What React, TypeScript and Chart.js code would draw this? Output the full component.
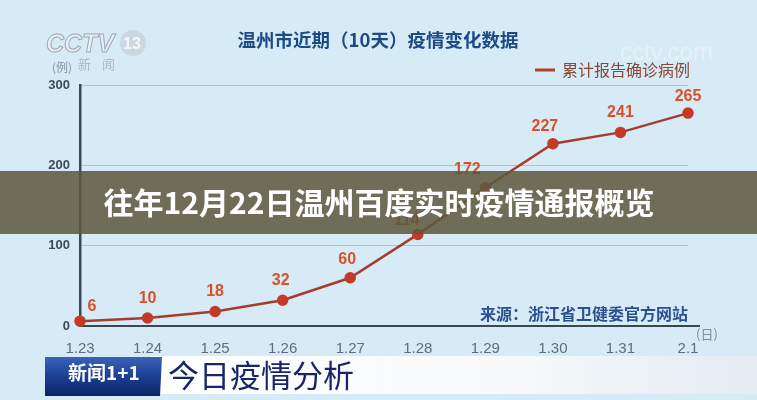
import React, { useEffect, useRef } from "react";
import { Chart, registerables } from "chart.js";

Chart.register(...registerables);

const categories = ["1.23", "1.24", "1.25", "1.26", "1.27", "1.28", "1.29", "1.30", "1.31", "2.1"];
const cumulativeCases = [6, 10, 18, 32, 60, 114, 172, 227, 241, 265];
const yTicks = [0, 100, 200, 300];
const chartTitle = "温州市近期（10天）疫情变化数据";
const legendLabel = "累计报告确诊病例";
const sourceText = "来源：浙江省卫健委官方网站";
const overlayTitle = "往年12月22日温州百度实时疫情通报概览";
const bannerText = "今日疫情分析";
const CJK = '"Noto Sans CJK SC", "Noto Sans", sans-serif';
const NUM = '"Liberation Sans", Arial, sans-serif';

// label offsets relative to each point (style only)
const labelDX = [12, 0, 0, -2, -3, -11, -18, -8, 0, 0];
const labelDY = [-15, -19, -20, -20, -18, -14, -18, -17, -20, -17];

const decorPlugin = {
  id: "decor",
  afterDatasetsDraw(chart: any) {
    const ctx = chart.ctx;
    const meta = chart.getDatasetMeta(0);
    ctx.save();
    ctx.font = `bold 16px ${NUM}`;
    ctx.fillStyle = "#d8512a";
    ctx.textAlign = "center";
    ctx.textBaseline = "middle";
    meta.data.forEach((pt: any, i: number) => {
      const v = cumulativeCases[i];
      ctx.fillText(String(v), pt.x + labelDX[i], pt.y + labelDY[i]);
    });
    ctx.restore();
  },
  afterDraw(chart: any) {
    const ctx = chart.ctx;
    const a = chart.chartArea;
    ctx.save();
    // x axis extension
    ctx.strokeStyle = "#3a4650";
    ctx.lineWidth = 2;
    ctx.beginPath();
    ctx.moveTo(a.right - 1, a.bottom);
    ctx.lineTo(a.right + 12, a.bottom);
    ctx.stroke();
    ctx.fillStyle = "#7d8c98";
    ctx.font = `13px ${CJK}`;
    ctx.textAlign = "left";
    ctx.textBaseline = "middle";
    ctx.fillText("(日)", a.right + 8, a.bottom + 8);
    ctx.font = `12px ${CJK}`;
    ctx.fillStyle = "#8596a3";
    ctx.fillText("(例)", 52, 67);

    // CCTV logo
    ctx.font = `bold italic 25px ${NUM}`;
    ctx.textAlign = "left";
    ctx.textBaseline = "alphabetic";
    ctx.fillStyle = "rgba(235,240,245,0.9)";
    ctx.strokeStyle = "rgba(150,160,170,0.9)";
    ctx.lineWidth = 1;
    ctx.fillText("CCTV", 46, 52);
    ctx.strokeText("CCTV", 46, 52);
    ctx.beginPath();
    ctx.arc(133, 43, 13, 0, Math.PI * 2);
    ctx.fillStyle = "rgba(200,210,220,0.8)";
    ctx.fill();
    ctx.fillStyle = "rgba(245,248,250,0.95)";
    ctx.font = `bold 16px ${NUM}`;
    ctx.fillText("13", 123, 49);
    ctx.font = `13px ${CJK}`;
    ctx.fillStyle = "rgba(170,178,186,0.9)";
    ctx.fillText("新", 78, 69);
    ctx.fillText("闻", 102, 69);
    ctx.fillStyle = "rgba(255,255,255,0.35)";
    ctx.font = `24px ${NUM}`;
    ctx.fillText("cctv.com", 620, 60);

    // chart title
    ctx.font = `bold 18.5px ${CJK}`;
    ctx.fillStyle = "#1d4a86";
    ctx.textAlign = "center";
    ctx.textBaseline = "middle";
    ctx.fillText(chartTitle, 378, 40);

    // legend
    ctx.strokeStyle = "#b5402a";
    ctx.lineWidth = 3;
    ctx.beginPath();
    ctx.moveTo(535, 70);
    ctx.lineTo(555, 70);
    ctx.stroke();
    ctx.font = `16px ${CJK}`;
    ctx.fillStyle = "#8a4636";
    ctx.textAlign = "left";
    ctx.fillText(legendLabel, 562, 70);

    // source
    ctx.font = `bold 16px ${CJK}`;
    ctx.fillStyle = "#2a5090";
    ctx.textAlign = "right";
    ctx.fillText(sourceText, 688, 314);

    // overlay band
    ctx.fillStyle = "rgba(93,87,62,0.86)";
    ctx.fillRect(0, 171, 757, 63);
    ctx.font = `bold 30px ${CJK}`;
    ctx.fillStyle = "#ffffff";
    ctx.textAlign = "center";
    ctx.textBaseline = "middle";
    ctx.fillText(overlayTitle, 379, 203);

    // bottom banner
    const g = ctx.createLinearGradient(160, 0, 757, 0);
    g.addColorStop(0, "rgba(255,255,255,0.98)");
    g.addColorStop(0.6, "rgba(250,250,250,0.9)");
    g.addColorStop(1, "rgba(235,238,240,0.6)");
    ctx.fillStyle = g;
    ctx.fillRect(150, 356, 607, 38);
    const bg = ctx.createLinearGradient(0, 357, 0, 396);
    bg.addColorStop(0, "#3a63b8");
    bg.addColorStop(0.5, "#1c3f93");
    bg.addColorStop(1, "#0d2466");
    ctx.fillStyle = bg;
    ctx.beginPath();
    ctx.moveTo(45, 357);
    ctx.lineTo(162, 357);
    ctx.lineTo(160, 396);
    ctx.lineTo(45, 396);
    ctx.closePath();
    ctx.fill();
    ctx.font = `bold 19px ${CJK}`;
    ctx.fillStyle = "#ffffff";
    ctx.textAlign = "left";
    ctx.fillText("新闻1+1", 68, 373);
    ctx.font = `31px ${CJK}`;
    ctx.fillStyle = "#17266a";
    ctx.fillText(bannerText, 168, 375);
    ctx.restore();
  },
};

export default function App() {
  const ref = useRef<HTMLCanvasElement | null>(null);
  useEffect(() => {
    if (!ref.current) return;
    const chart = new Chart(ref.current, {
      type: "line",
      data: {
        labels: categories,
        datasets: [
          {
            label: legendLabel,
            data: cumulativeCases,
            borderColor: "#a83c2c",
            backgroundColor: "#c0392b",
            borderWidth: 2.5,
            pointRadius: 4.5,
            pointBackgroundColor: "#c33a26",
            pointBorderColor: "#c33a26",
            tension: 0,
            clip: false as any,
          },
        ],
      },
      options: {
        responsive: false,
        animation: false,
        layout: { padding: { top: 85, right: 69, left: 0, bottom: 0 } },
        plugins: { legend: { display: false }, tooltip: { enabled: false }, title: { display: false } },
        scales: {
          x: {
            offset: false,
            grid: { display: false },
            border: { display: true, color: "#3a4650", width: 2 },
            ticks: { color: "#5e6d79", font: { family: NUM, size: 15 }, padding: 6, maxRotation: 0, autoSkip: false },
            afterFit(scale: any) {
              scale.height = 74;
            },
          },
          y: {
            min: 0,
            max: 300,
            afterBuildTicks(scale: any) {
              scale.ticks = yTicks.map((v) => ({ value: v }));
            },
            grid: {
              color: (c: any) => (c.tick && c.tick.value === 0 ? "rgba(0,0,0,0)" : "#a9c2d4"),
              lineWidth: 1,
              drawTicks: false,
            },
            border: { display: true, color: "#3d4a55", width: 2.5 },
            ticks: { color: "#3c4a56", font: { family: NUM, size: 13, weight: "bold" }, padding: 10 },
            afterFit(scale: any) {
              scale.width = 80;
            },
          },
        },
      },
      plugins: [decorPlugin],
    });
    return () => chart.destroy();
  }, []);
  return (
    <div style={{ position: "fixed", left: 0, top: 0, width: 757, height: 400, background: "#d7ebf7", overflow: "hidden" }}>
      <canvas ref={ref} width={757} height={400} style={{ display: "block" }} />
    </div>
  );
}
